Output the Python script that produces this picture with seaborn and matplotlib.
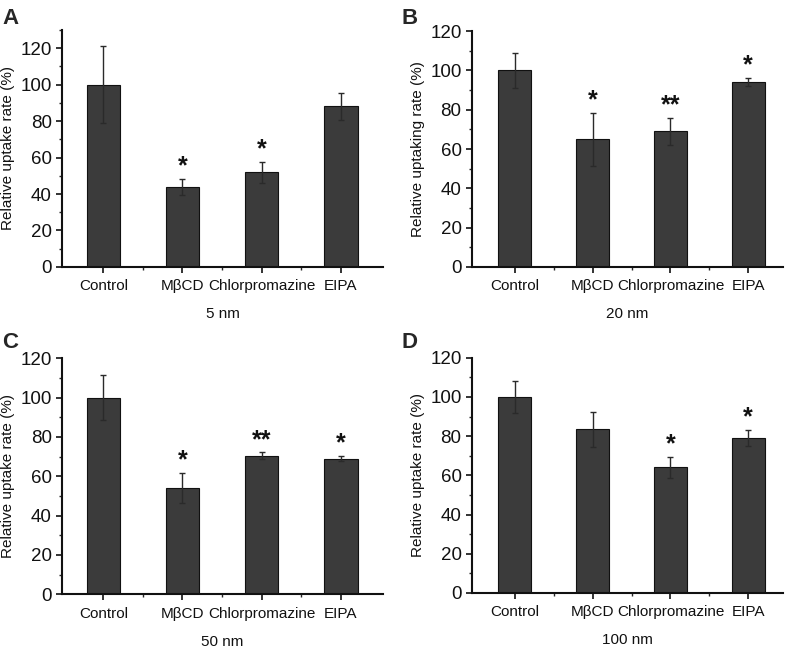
import pandas as pd
import numpy as np
import matplotlib
matplotlib.use("Agg")
import matplotlib.pyplot as plt
from matplotlib.ticker import MultipleLocator, FixedLocator
import seaborn as sns

# ------------------------------------------------------------
# Data
# ------------------------------------------------------------
treatments = ["Control", "MβCD", "Chlorpromazine", "EIPA"]

uptake_5nm = [100, 44, 52, 88]
err_5nm = [21, 4.3, 5.8, 7.5]
stars_5nm = ["", "*", "*", ""]

uptake_20nm = [100, 65, 69, 94]
err_20nm = [9, 13.5, 7, 2]
stars_20nm = ["", "*", "**", "*"]

uptake_50nm = [100, 54, 70.5, 69]
err_50nm = [11.5, 7.5, 1.6, 1.2]
stars_50nm = ["", "*", "**", "*"]

uptake_100nm = [100, 83.5, 64, 79]
err_100nm = [8, 9, 5.2, 4]
stars_100nm = ["", "", "*", "*"]

sizes = ["5 nm", "20 nm", "50 nm", "100 nm"]
panel_letters = ["A", "B", "C", "D"]
ylabels = ["Relative uptake rate (%)", "Relative uptaking rate (%)",
           "Relative uptake rate (%)", "Relative uptake rate (%)"]
ytops = [130, 120, 120, 120]

sns.set_theme(style="ticks")
plt.rcParams["font.family"] = ["Liberation Sans", "DejaVu Sans"]

fig = plt.figure(figsize=(7.96, 6.48), dpi=100)

# axes boxes in figure fractions
boxes = [
    [0.078, 0.588, 0.403, 0.366],
    [0.593, 0.588, 0.391, 0.364],
    [0.078, 0.083, 0.403, 0.364],
    [0.593, 0.085, 0.391, 0.363],
]
xlims = [(-0.52, 3.53), (-0.55, 3.45), (-0.52, 3.53), (-0.55, 3.45)]

all_vals = [uptake_5nm, uptake_20nm, uptake_50nm, uptake_100nm]
all_errs = [err_5nm, err_20nm, err_50nm, err_100nm]
all_stars = [stars_5nm, stars_20nm, stars_50nm, stars_100nm]
letter_pos = [(0.003, 0.988), (0.505, 0.988), (0.003, 0.488), (0.505, 0.488)]

for i in range(4):
    ax = fig.add_axes(boxes[i])
    df = pd.DataFrame({"treatment": treatments, "uptake": all_vals[i], "err": all_errs[i]})
    sns.barplot(data=df, x="treatment", y="uptake", ax=ax, color="#3b3b3b",
                width=0.42, edgecolor="#111111", linewidth=0.8, saturation=1, errorbar=None)
    x = np.arange(len(treatments))
    ax.errorbar(x, df["uptake"], yerr=df["err"], fmt="none", ecolor="#2a2a2a",
                elinewidth=1.0, capsize=2.5, capthick=1.0)
    for xi, v, e, s in zip(x, df["uptake"], df["err"], all_stars[i]):
        if s:
            ax.text(xi, v + e + 0.3, s, ha="center", va="bottom", fontsize=18,
                    fontweight="bold", color="#111111")

    ax.set_ylim(0, ytops[i])
    ax.set_xlim(*xlims[i])
    ax.yaxis.set_major_locator(FixedLocator([0, 20, 40, 60, 80, 100, 120]))
    ax.yaxis.set_minor_locator(MultipleLocator(10))
    ax.xaxis.set_minor_locator(FixedLocator([0.5, 1.5, 2.5]))
    ax.tick_params(axis="both", which="major", direction="out", length=4, width=1.2,
                   colors="#111111")
    ax.tick_params(axis="y", which="major", labelsize=13.5)
    ax.tick_params(axis="x", which="major", labelsize=11, pad=5)
    ax.tick_params(axis="both", which="minor", direction="out", length=2.5, width=1.0)
    ax.set_xticks(x)
    ax.set_xticklabels(treatments)
    for sp in ["top", "right"]:
        ax.spines[sp].set_visible(False)
    for sp in ["left", "bottom"]:
        ax.spines[sp].set_linewidth(1.5)
        ax.spines[sp].set_color("#111111")
    ax.set_ylabel(ylabels[i], fontsize=11, labelpad=4, color="#111111")
    ax.set_xlabel(sizes[i], fontsize=11, labelpad=10, color="#111111")
    fig.text(letter_pos[i][0], letter_pos[i][1], panel_letters[i], fontsize=16,
             fontweight="bold", ha="left", va="top")

fig.savefig("out.png", dpi=100)
